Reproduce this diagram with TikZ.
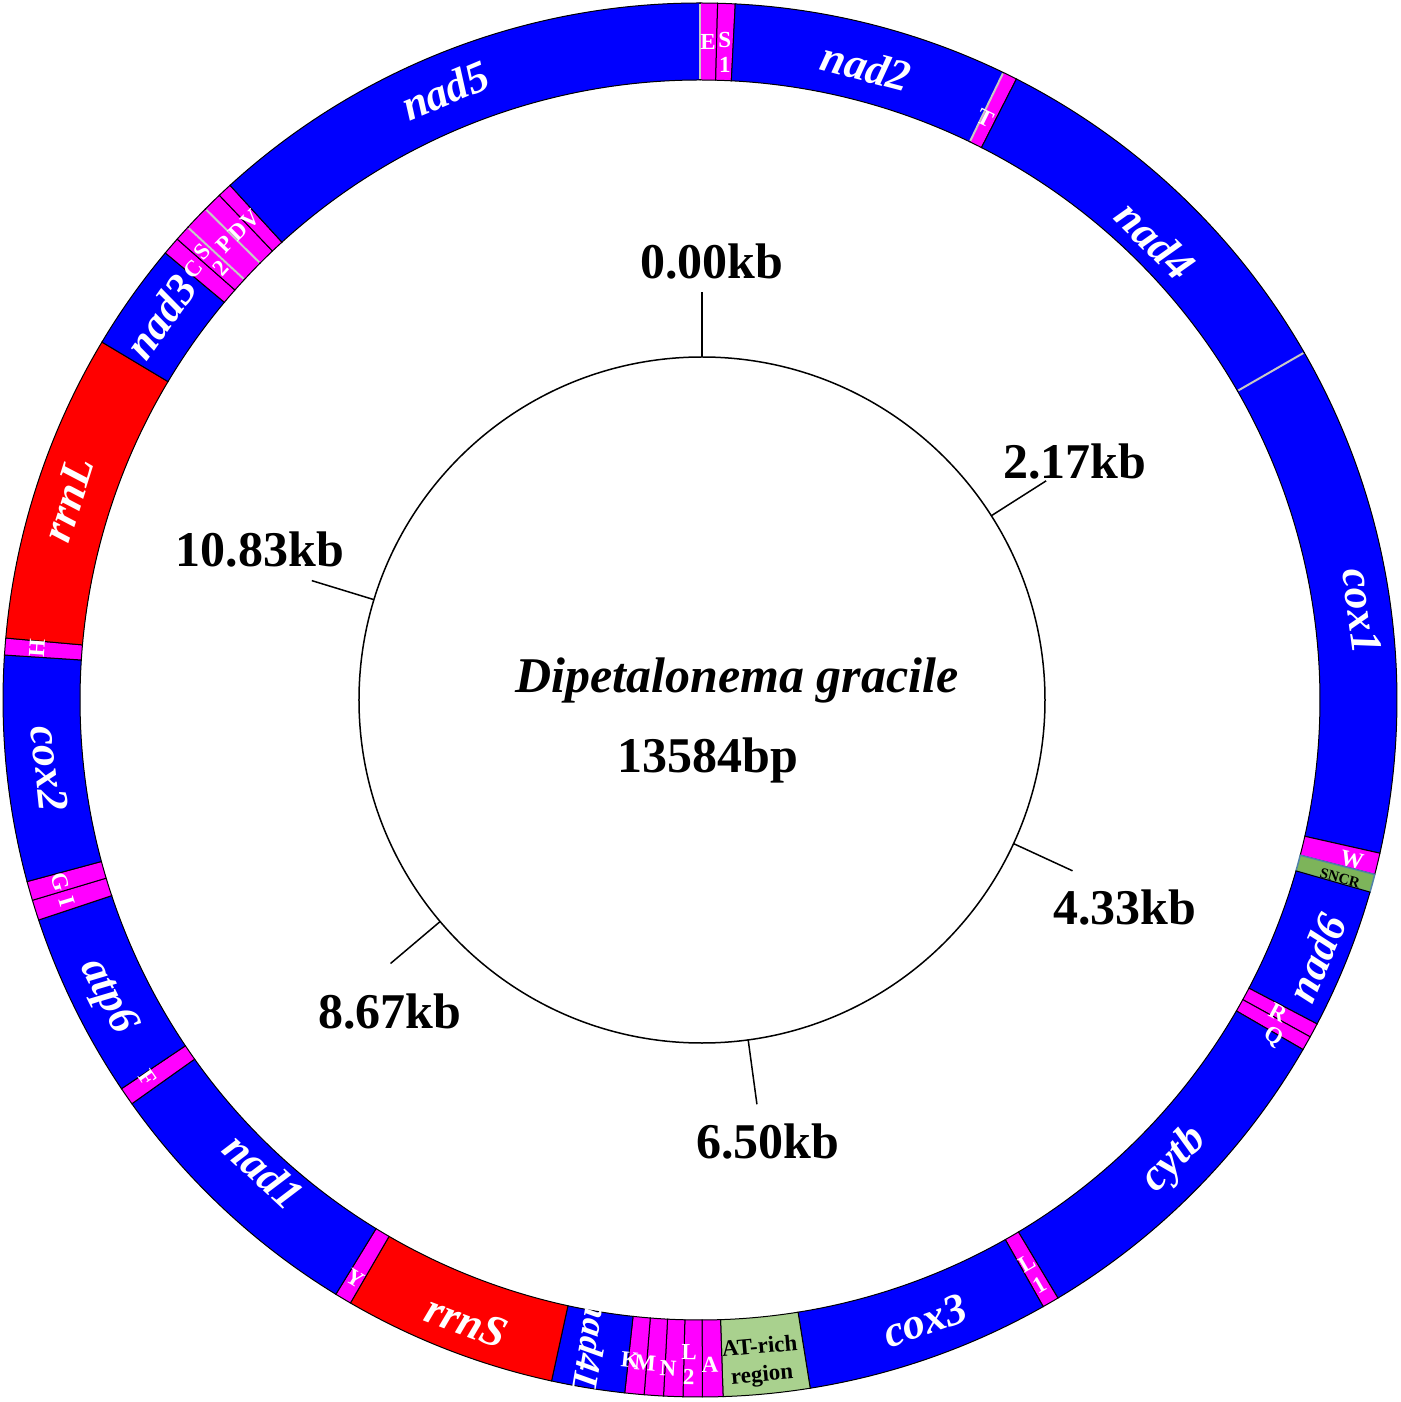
\documentclass[tikz,border=0pt]{standalone}
\usepackage{fontspec}
\setmainfont{Liberation Serif}
\usetikzlibrary{calc}
\definecolor{gblue}{RGB}{0,0,255}
\definecolor{gred}{RGB}{255,0,0}
\definecolor{gmag}{RGB}{255,0,255}
\definecolor{ggreen}{RGB}{169,209,142}
\definecolor{sgreen}{RGB}{125,180,90}
\definecolor{sedge}{RGB}{79,129,170}
\definecolor{gline}{RGB}{200,200,200}
\newcommand\gseg[3]{%
  \filldraw[fill=#3, draw=black, line width=1] ({90-#1}:620) arc[start angle={90-#1}, end angle={90-#2}, radius=620]
    -- ({90-#2}:697) arc[start angle={90-#2}, end angle={90-#1}, radius=697] -- cycle;}
\newcommand\gsep[1]{\draw[gline, line width=2] ({90-#1}:621) -- ({90-#1}:696);}
\begin{document}
\begin{tikzpicture}[x=1pt,y=1pt,
  glab/.style={text=white, font=\fontsize{44}{48}\selectfont\bfseries\itshape, inner sep=0},
  tlab/.style={text=white, font=\fontsize{23}{25}\selectfont\bfseries, inner sep=0, align=center},
  klab/.style={text=black, font=\fontsize{50}{55}\selectfont\bfseries, inner sep=0},
  tickline/.style={line width=1.5, black}]
\useasboundingbox (-700,-702) rectangle (700,700);
% ring segments (angle clockwise from top)
\gseg{0}{1.45}{gmag}
\gseg{1.45}{2.9}{gmag}
\gseg{2.9}{25.8}{gblue}
\gseg{25.8}{27.0}{gmag}
\gseg{27.0}{60.1}{gblue}
\gseg{60.1}{102.7}{gblue}
\gseg{102.7}{104.5}{gmag}
\filldraw[fill=sgreen, draw=sedge, line width=1.5] ({90-104.5}:620) arc[start angle={90-104.5}, end angle={90-106.0}, radius=620]
    -- ({90-106.0}:697) arc[start angle={90-106.0}, end angle={90-104.5}, radius=697] -- cycle;
\gseg{106.0}{117.7}{gblue}
\gseg{117.7}{118.9}{gmag}
\gseg{118.9}{120.1}{gmag}
\gseg{120.1}{149.1}{gblue}
\gseg{149.1}{150.5}{gmag}
\gseg{150.5}{170.9}{gblue}
\gseg{170.9}{178.1}{ggreen}
\gseg{178.1}{179.8}{gmag}
\gseg{179.8}{181.4}{gmag}
\gseg{181.4}{183.0}{gmag}
\gseg{183.0}{184.6}{gmag}
\gseg{184.6}{186.2}{gmag}
\gseg{186.2}{192.3}{gblue}
\gseg{192.3}{210.1}{gred}
\gseg{210.1}{211.5}{gmag}
\gseg{211.5}{234.6}{gblue}
\gseg{234.6}{236.1}{gmag}
\gseg{236.1}{251.6}{gblue}
\gseg{251.6}{253.3}{gmag}
\gseg{253.3}{254.9}{gmag}
\gseg{254.9}{273.7}{gblue}
\gseg{273.7}{275.1}{gmag}
\gseg{275.1}{300.9}{gred}
\gseg{300.9}{309.9}{gblue}
\gseg{309.9}{311.4}{gmag}
\gseg{311.4}{312.7}{gmag}
\gseg{312.7}{314.8}{gmag}
\gseg{314.8}{316.4}{gmag}
\gseg{316.4}{317.6}{gmag}
\gseg{317.6}{360}{gblue}
\gsep{0}\gsep{25.8}\gsep{60.1}\gsep{312.7}\gsep{314.8}
% gene labels
\node[glab, rotate=22.7] (nad5) at ({90-337.3}:661) {nad5};
\node[glab, rotate=-14.7] (nad2) at ({90-14.7}:655) {nad2};
\node[glab, rotate=-44.7] (nad4) at ({90-44.7}:647) {nad4};
\node[glab, rotate=-82.3] (cox1) at ({90-82.3}:668) {cox1};
\node[glab, rotate=67.3] (nad6) at ({90-112.7}:668) {nad6};
\node[glab, rotate=45.9] (cytb) at ({90-134.1}:661) {cytb};
\node[glab, rotate=19.9] (cox3) at ({90-160.1}:660) {cox3};
\node[glab, rotate=-99.7, font=\fontsize{36}{40}\selectfont\bfseries\itshape] (nad4L) at ({90-189.5}:656) {nad4L};
\node[glab, rotate=-20.6] (rrnS) at ({90-200.6}:664) {rrnS};
\node[glab, rotate=-42.8] (nad1) at ({90-222.8}:642) {nad1};
\node[glab, rotate=-63.4] (atp6) at ({90-243.4}:663) {atp6};
\node[glab, rotate=-84] (cox2) at ({90-264}:654) {cox2};
\node[glab, rotate=72.4] (rrnL) at ({90-287.6}:663) {rrnL};
\node[glab, rotate=54.6] (nad3) at ({90-305.4}:662) {nad3};
% tRNA labels
\node[tlab] (tE) at ({90-0.7}:658) {E};
\node[tlab] (tS1) at ({90-2.2}:648) {S\\1};
\node[tlab, rotate=-26.1] (tT) at ({90-26.1}:648) {T};
\node[tlab, rotate=-13] (tW) at (652,-160) {W};
\node[text=black, font=\fontsize{15}{17}\selectfont\bfseries, inner sep=0, rotate=-15] (sncr) at (640,-178) {SNCR};
\node[tlab, rotate=-28] (tR) at (578,-313) {R};
\node[tlab, rotate=-30] (tQ) at (573,-337) {Q};
\node[tlab, rotate=30] (tL1) at (333,-574) {L\\1};
\node[text=black, font=\fontsize{23}{28}\selectfont\bfseries, inner sep=0, align=center, rotate=5] (atrich) at (61,-662) {AT-rich\\region};
\node[tlab, rotate=1] (tA) at (10,-665) {A};
\node[tlab, rotate=-1] (tL2) at (-11,-665) {L\\2};
\node[tlab, rotate=-3] (tN) at (-32,-668) {N};
\node[tlab, rotate=-5] (tM) at (-55,-663) {M};
\node[tlab, rotate=-6] (tK) at (-70,-660) {K};
\node[tlab, rotate=-31] (tY) at (-345,-578) {Y};
\node[tlab, rotate=-55] (tF) at (-552,-378) {F};
\node[tlab, rotate=-73] (tG) at (-640,-182) {G};
\node[tlab, rotate=-73] (tI) at (-633,-202) {I};
\node[tlab, rotate=86] (tH) at (-663,52) {H};
\node[tlab, rotate=49.4] (tC) at ({90-310.4}:665) {C};
\node[tlab, rotate=48] (tS2) at ({90-312.0}:658) {S\\2};
\node[tlab, rotate=46.2] (tP) at ({90-313.8}:658) {P};
\node[tlab, rotate=44.6] (tD) at ({90-315.4}:658) {D};
\node[tlab, rotate=43.2] (tV) at ({90-316.9}:658) {V};
% inner circle and ticks
\coordinate (c0) at (2,0);
\draw[line width=1.5] (c0) circle[radius=343];
\foreach \n/\a in {k0/0, k1/57.51, k2/114.75, k3/172.26, k4/229.77, k5/287.01}{
  \draw[tickline] ($(c0)+({90-\a}:343)$) coordinate (\n in) -- ($(c0)+({90-\a}:408)$) coordinate (\n out);
}
\node[klab] (l0) at (12,438) {0.00kb};
\node[klab] (l1) at (375,238) {2.17kb};
\node[klab] (l2) at (425,-208) {4.33kb};
\node[klab] (l3) at (68,-442) {6.50kb};
\node[klab] (l4) at (-310,-312) {8.67kb};
\node[klab] (l5) at (-440,150) {10.83kb};
\node[klab, font=\fontsize{50}{55}\selectfont\bfseries\itshape] (sp) at (37,20) {Dipetalonema gracile};
\node[klab] (bp) at (8,-60) {13584bp};
\end{tikzpicture}
\end{document}
